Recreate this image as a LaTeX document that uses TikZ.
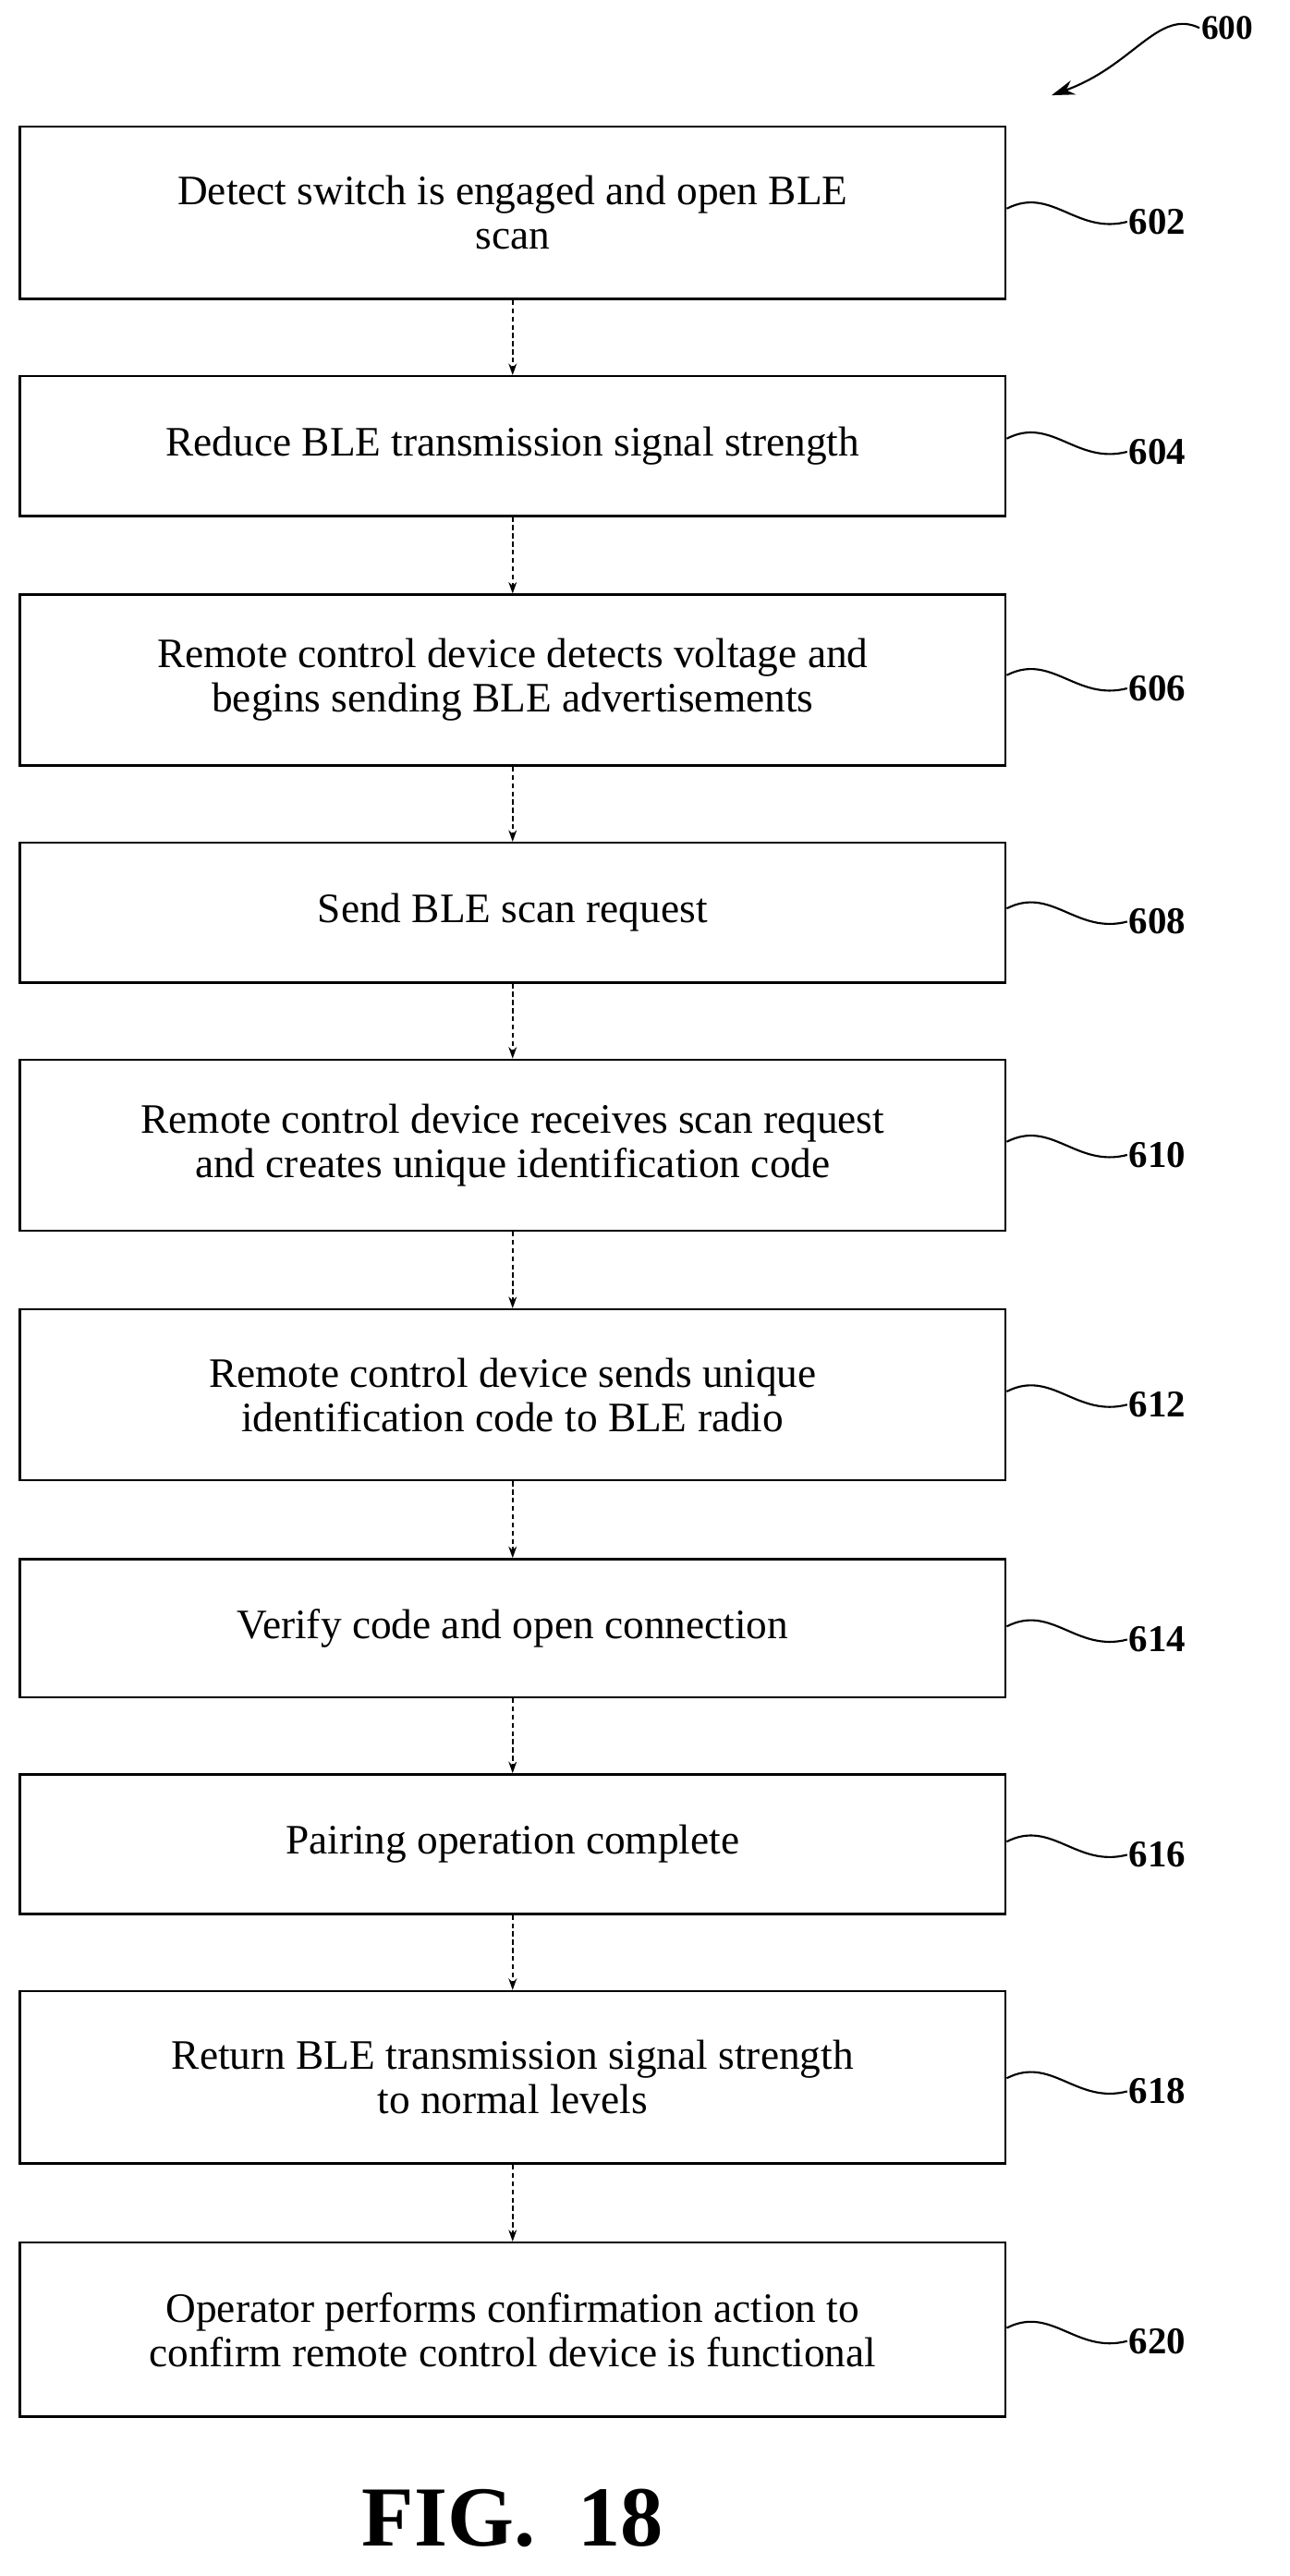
\documentclass[tikz,border=0pt]{standalone}
\usepackage{fontspec}
\setmainfont{Liberation Serif}
\usetikzlibrary{arrows.meta}
\begin{document}
\begin{tikzpicture}[x=1pt,y=-1pt,
  box/.style={draw,line width=1.4pt,minimum width=600pt,inner sep=0pt,align=center,font=\fontsize{25.5}{27}\selectfont},
  lab/.style={font=\fontsize{23}{26}\selectfont\bfseries,anchor=west,inner sep=1pt},
  arr/.style={-{Stealth[length=7pt,width=5pt]},line width=0.9pt,densely dashed},
  sq/.style={line width=1.2pt}]
\useasboundingbox (0,0) rectangle (785,1568);
\def\mk#1#2#3#4#5{%
  \node[box,minimum height=#3pt] (b#1) at (312,#2) {#4};
  \node[lab] (l#1) at (686,#5) {#1};
  \draw[sq] (b#1.east |- 0,#5-8) .. controls (640,#5-22) and (655,#5+8) .. (l#1.west);}
\mk{602}{129.5}{105}{Detect switch is engaged and open BLE\\scan}{135}
\mk{604}{271.5}{85}{Reduce BLE transmission signal strength}{275}
\mk{606}{414}{104}{Remote control device detects voltage and\\begins sending BLE advertisements}{419}
\mk{608}{555.5}{85}{Send BLE scan request}{561}
\mk{610}{697}{104}{Remote control device receives scan request\\and creates unique identification code}{703}
\mk{612}{849}{104}{Remote control device sends unique\\identification code to BLE radio}{855}
\mk{614}{991}{84}{Verify code and open connection}{998}
\mk{616}{1122.5}{85}{Pairing operation complete}{1129}
\mk{618}{1264.5}{105}{Return BLE transmission signal strength\\to normal levels}{1273}
\mk{620}{1418}{106}{Operator performs confirmation action to\\confirm remote control device is functional}{1425}
\foreach \a/\b in {602/604,604/606,606/608,608/610,610/612,612/614,614/616,616/618,618/620}
  \draw[arr] (b\a) -- (b\b);
\node[lab,font=\fontsize{21}{24}\selectfont\bfseries] (l600) at (730,17) {600};
\coordinate (t600) at (640,58);
\draw[line width=1.2pt,-{Stealth[length=14pt,width=9pt]}] (l600.west) .. controls (705,5) and (690,40) .. (t600);
\node[font=\fontsize{52}{56}\selectfont\bfseries] (fig) at (312,1533) {FIG.~~18};
\end{tikzpicture}
\end{document}
